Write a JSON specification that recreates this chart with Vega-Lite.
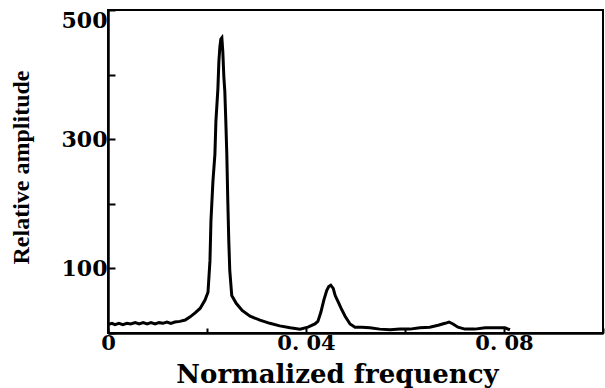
{
  "$schema": "https://vega.github.io/schema/vega-lite/v6.json",
  "autosize": {"type": "none"},
  "padding": {"left": 108, "top": 10, "right": 2, "bottom": 55},
  "width": 495,
  "height": 323,
  "background": "white",
  "config": {
    "view": {"stroke": "black", "strokeWidth": 2},
    "axis": {
      "domainColor": "black",
      "domainWidth": 2.5,
      "tickColor": "black",
      "tickWidth": 2,
      "grid": false,
      "labelColor": "black",
      "titleColor": "black"
    }
  },
  "data": {
    "values": [
      {"f": 0.0, "a": 13}, {"f": 0.0008, "a": 15}, {"f": 0.0014, "a": 13},
      {"f": 0.0022, "a": 15}, {"f": 0.0030, "a": 13}, {"f": 0.0038, "a": 15},
      {"f": 0.0046, "a": 14}, {"f": 0.0055, "a": 16}, {"f": 0.0063, "a": 14},
      {"f": 0.0071, "a": 16}, {"f": 0.0079, "a": 14}, {"f": 0.0087, "a": 16},
      {"f": 0.0095, "a": 14}, {"f": 0.0103, "a": 16}, {"f": 0.0111, "a": 15},
      {"f": 0.0119, "a": 17}, {"f": 0.0127, "a": 15}, {"f": 0.0135, "a": 17},
      {"f": 0.0145, "a": 18}, {"f": 0.0156, "a": 20}, {"f": 0.0166, "a": 25},
      {"f": 0.0176, "a": 31}, {"f": 0.0186, "a": 38}, {"f": 0.0196, "a": 51},
      {"f": 0.0202, "a": 63}, {"f": 0.0206, "a": 112}, {"f": 0.0208, "a": 174},
      {"f": 0.0212, "a": 235}, {"f": 0.0216, "a": 277}, {"f": 0.0218, "a": 328},
      {"f": 0.0222, "a": 378}, {"f": 0.0224, "a": 420}, {"f": 0.0226, "a": 443},
      {"f": 0.0228, "a": 455}, {"f": 0.0230, "a": 457}, {"f": 0.0232, "a": 435},
      {"f": 0.0234, "a": 397}, {"f": 0.0236, "a": 374}, {"f": 0.0238, "a": 328},
      {"f": 0.0240, "a": 277}, {"f": 0.0242, "a": 205}, {"f": 0.0244, "a": 143},
      {"f": 0.0246, "a": 97}, {"f": 0.0250, "a": 58}, {"f": 0.0259, "a": 46},
      {"f": 0.0271, "a": 35}, {"f": 0.0287, "a": 26}, {"f": 0.0307, "a": 20},
      {"f": 0.0327, "a": 15}, {"f": 0.0347, "a": 11}, {"f": 0.0368, "a": 8},
      {"f": 0.0388, "a": 6}, {"f": 0.0404, "a": 9}, {"f": 0.0418, "a": 14},
      {"f": 0.0424, "a": 18}, {"f": 0.0430, "a": 32}, {"f": 0.0436, "a": 51},
      {"f": 0.0442, "a": 66}, {"f": 0.0446, "a": 72}, {"f": 0.0450, "a": 74},
      {"f": 0.0455, "a": 69}, {"f": 0.0459, "a": 58}, {"f": 0.0465, "a": 48},
      {"f": 0.0471, "a": 38}, {"f": 0.0479, "a": 26}, {"f": 0.0489, "a": 14},
      {"f": 0.0499, "a": 9}, {"f": 0.0513, "a": 9}, {"f": 0.0529, "a": 8},
      {"f": 0.0549, "a": 6}, {"f": 0.0570, "a": 5}, {"f": 0.0590, "a": 6},
      {"f": 0.0610, "a": 6}, {"f": 0.0630, "a": 8}, {"f": 0.0650, "a": 9},
      {"f": 0.0667, "a": 12}, {"f": 0.0681, "a": 15}, {"f": 0.0689, "a": 17},
      {"f": 0.0697, "a": 14}, {"f": 0.0707, "a": 9}, {"f": 0.0721, "a": 6},
      {"f": 0.0741, "a": 6}, {"f": 0.0762, "a": 8}, {"f": 0.0782, "a": 8},
      {"f": 0.0802, "a": 8}, {"f": 0.0812, "a": 5}
    ]
  },
  "mark": {"type": "line", "color": "black", "strokeWidth": 3, "clip": true},
  "encoding": {
    "x": {
      "field": "f",
      "type": "quantitative",
      "scale": {"domain": [0, 0.1], "nice": false, "zero": false},
      "axis": {
        "title": "Normalized frequency",
        "titleFont": "DejaVu Serif",
        "titleFontWeight": "bold",
        "titleFontSize": 26,
        "titleX": 229,
        "titleY": 49,
        "titleBaseline": "alphabetic",
        "titleAnchor": "middle",
        "titleAlign": "center",
        "values": [0, 0.02, 0.04, 0.06, 0.08, 0.1],
        "labelExpr": "datum.value == 0 ? '0' : (abs(datum.value - 0.04) < 1e-9 ? '0. 04' : (abs(datum.value - 0.08) < 1e-9 ? '0. 08' : ''))",
        "labelFont": "DejaVu Serif",
        "labelFontWeight": "bold",
        "labelFontSize": 21,
        "labelPadding": 4,
        "labelFlush": false,
        "labelOverlap": false,
        "tickSize": -5
      }
    },
    "y": {
      "field": "a",
      "type": "quantitative",
      "scale": {"domain": [0, 500], "nice": false},
      "axis": {
        "title": "Relative amplitude",
        "titleFont": "Liberation Serif",
        "titleFontWeight": "bold",
        "titleFontSize": 24,
        "titleX": -80,
        "titleY": 157,
        "titleAngle": -90,
        "titleBaseline": "alphabetic",
        "titleAlign": "center",
        "values": [0, 100, 200, 300, 400, 500],
        "labelExpr": "datum.value % 200 == 100 ? datum.label : ''",
        "labelFont": "DejaVu Serif",
        "labelFontWeight": "bold",
        "labelFontSize": 22,
        "labelPadding": 8,
        "labelBaseline": {"expr": "datum.value == 500 ? 'top' : 'middle'"},
        "labelFlush": false,
        "labelOverlap": false,
        "tickSize": -7
      }
    }
  }
}
